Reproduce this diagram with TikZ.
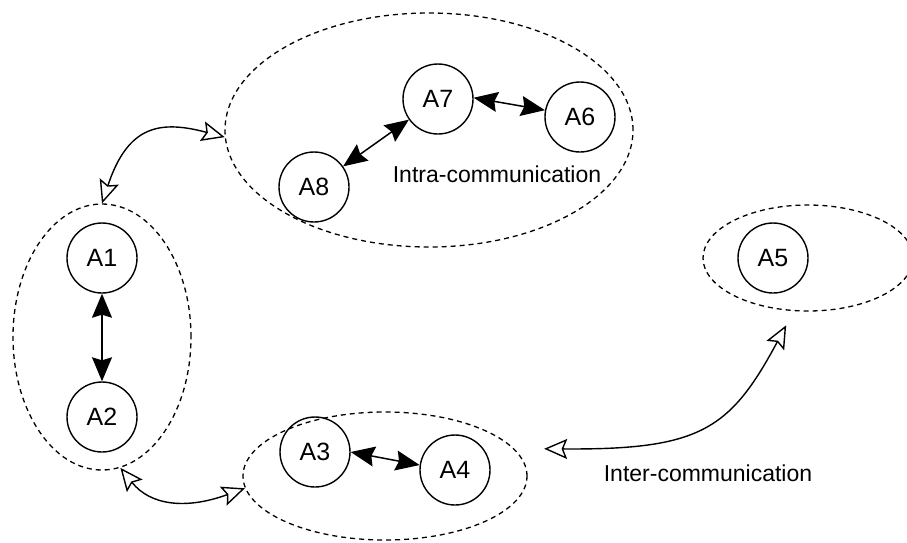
\documentclass[tikz,border=0pt]{standalone}
\usepackage{fontspec}
\setmainfont{Liberation Sans}
\usetikzlibrary{shapes.geometric,arrows.meta}

\tikzset{
  agent/.style={draw, circle, line width=1.4pt, minimum size=70pt, inner sep=0pt,
    font=\fontsize{25}{30}\selectfont},
  group/.style={draw, ellipse, line width=1.3pt, dash pattern=on 5pt off 4pt, inner sep=0pt},
  intra/.style={line width=1.5pt, {Stealth[length=24pt,width=20pt,inset=3pt]}-{Stealth[length=24pt,width=20pt,inset=3pt]}},
  inter/.style={line width=1.4pt, {Stealth[open,length=23pt,width=20pt,inset=4pt]}-{Stealth[open,length=23pt,width=20pt,inset=4pt]}},
  label/.style={font=\fontsize{23}{28}\selectfont}
}

\begin{document}
\begin{tikzpicture}[x=1pt,y=-1pt]
                \useasboundingbox (0,0) rectangle (907,542);

                % Groups
                \node[group, minimum width=178pt, minimum height=266pt] (g1) at (102,337) {};
                \node[group, minimum width=408pt, minimum height=234pt] (g2) at (429,130) {};
                \node[group, minimum width=284pt, minimum height=128pt] (g3) at (385,476) {};
                \node[group, minimum width=210pt, minimum height=106pt] (g4) at (808,258) {};

                % Agents
                \node[agent] (a1) at (102,258) {A1};
                \node[agent] (a2) at (102,417) {A2};
                \node[agent] (a3) at (315,452) {A3};
                \node[agent] (a4) at (455,470) {A4};
                \node[agent] (a5) at (773,258) {A5};
                \node[agent] (a6) at (580,117) {A6};
                \node[agent] (a7) at (438,99) {A7};
                \node[agent] (a8) at (314,187) {A8};

                % Intra-communication
                \draw[intra] (a1) -- (a2);
                \draw[intra] (a3.0) -- (a4.172);
                \draw[intra] (a8) -- (a7);
                \draw[intra] (a7.2) -- (a6.169);

                % Inter-communication
                \draw[inter] (g1.north) .. controls (128,125) and (160,120) .. (g2.182);
                \draw[inter] (g1.-82) .. controls (150,505) and (185,510) .. (g3.185);
                \draw[inter, shorten <=30pt, shorten >=16pt] (g3.12) .. controls (700,450) and (730,430) .. (g4.-105);

                \node[label] (intra) at (497,174) {Intra-communication};
                \node[label] (inter) at (708,473) {Inter-communication};
            \end{tikzpicture}
\end{document}
